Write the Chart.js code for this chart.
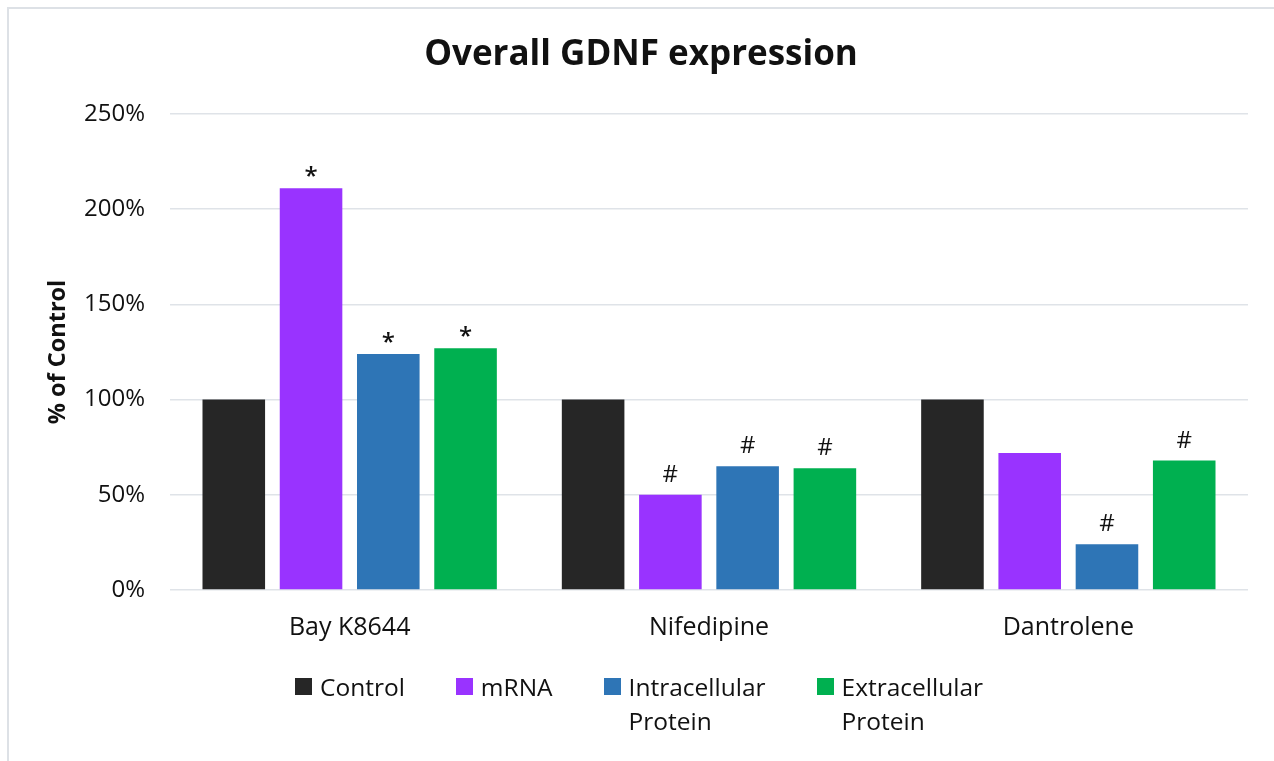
<!DOCTYPE html>
<html>
<head>
<meta charset="utf-8">
<script src="https://cdn.jsdelivr.net/npm/chart.js@4"></script>
<style>
    html, body { margin: 0; padding: 0; background: #fff; overflow: hidden; }
    #wrap { position: relative; width: 1274px; height: 761px; }
    #frame { position: absolute; left: 7px; top: 7px; width: 1300px; height: 800px; border: 2px solid #dde1e6; box-sizing: border-box; }
    #myChart { position: absolute; left: 0; top: 0; }
    #legend { position: absolute; left: 2px; top: 670px; width: 1274px; display: flex; justify-content: center; gap: 51px;
              font-family: "Open Sans", sans-serif; font-size: 24.5px; line-height: 34px; color: #111; }
    #legend .item { display: flex; align-items: flex-start; }
    #legend .box { width: 17px; height: 17px; margin-top: 8px; margin-right: 8px; flex: none; }
</style>
</head>
<body>
<div id="wrap">
    <div id="frame"></div>
    <canvas id="myChart" width="1274" height="761"></canvas>
    <div id="legend"></div>
</div>
<script>
const categories = ['Bay K8644', 'Nifedipine', 'Dantrolene'];
const seriesNames = ['Control', 'mRNA', ['Intracellular', 'Protein'], ['Extracellular', 'Protein']];
const seriesColors = ['#262626', '#9933ff', '#2e75b6', '#00b050'];
const controlValues = [100, 100, 100];
const mrnaValues = [211, 50, 72];
const intraValues = [124, 65, 24];
const extraValues = [127, 64, 68];
const controlMarks = ['', '', ''];
const mrnaMarks = ['*', '#', ''];
const intraMarks = ['*', '#', '#'];
const extraMarks = ['*', '#', '#'];
const yTicks = [0, 50, 100, 150, 200, 250];

const fontFamily = '"Open Sans", sans-serif';
const textColor = '#111111';

document.addEventListener('DOMContentLoaded', function() {
    const ctx = document.getElementById('myChart');

    // draws the * and # above the bars
    const marksPlugin = {
        id: 'marks',
        afterDatasetsDraw(chart) {
            const c = chart.ctx;
            c.save();
            c.fillStyle = textColor;
            c.textAlign = 'center';
            c.textBaseline = 'alphabetic';
            chart.data.datasets.forEach((ds, i) => {
                const meta = chart.getDatasetMeta(i);
                meta.data.forEach((bar, j) => {
                    const m = ds.marks[j];
                    if (!m) return;
                    c.font = (m === '*' ? '600 ' : '') + '24px ' + fontFamily;
                    c.fillText(m, bar.x, bar.y - (m === '*' ? 4 : 13));
                });
            });
            c.restore();
        }
    };

    // html legend built from the datasets
    const legendPlugin = {
        id: 'htmlLegend',
        afterUpdate(chart) {
            const box = document.getElementById('legend');
            box.innerHTML = '';
            chart.data.datasets.forEach(ds => {
                const item = document.createElement('div');
                item.className = 'item';
                const sw = document.createElement('span');
                sw.className = 'box';
                sw.style.background = ds.backgroundColor;
                const txt = document.createElement('span');
                txt.innerHTML = [].concat(ds.label).join('<br>');
                item.appendChild(sw);
                item.appendChild(txt);
                box.appendChild(item);
            });
        }
    };

    new Chart(ctx, {
        type: 'bar',
        data: {
            labels: categories,
            datasets: [
                { label: seriesNames[0], data: controlValues, marks: controlMarks, backgroundColor: seriesColors[0] },
                { label: seriesNames[1], data: mrnaValues, marks: mrnaMarks, backgroundColor: seriesColors[1] },
                { label: seriesNames[2], data: intraValues, marks: intraMarks, backgroundColor: seriesColors[2] },
                { label: seriesNames[3], data: extraValues, marks: extraMarks, backgroundColor: seriesColors[3] }
            ]
        },
        options: {
            responsive: false,
            maintainAspectRatio: false,
            animation: false,
            datasets: {
                bar: {
                    barPercentage: 0.81,
                    categoryPercentage: 0.86
                }
            },
            layout: {
                padding: { left: 34, right: 26, top: 0, bottom: 108 }
            },
            scales: {
                x: {
                    grid: { display: false, drawTicks: false },
                    border: { display: false },
                    ticks: {
                        color: textColor,
                        font: { family: fontFamily, size: 25 },
                        padding: 23,
                        maxRotation: 0
                    },
                    afterFit(scale) { scale.height = 63; }
                },
                y: {
                    min: 0,
                    max: 250,
                    afterBuildTicks(scale) { scale.ticks = yTicks.map(v => ({ value: v })); },
                    grid: { color: '#dfe3e8', lineWidth: 1.5, drawTicks: false },
                    border: { display: false },
                    ticks: {
                        color: textColor,
                        font: { family: fontFamily, size: 24 },
                        padding: 25,
                        callback: v => v + '%'
                    },
                    title: {
                        display: true,
                        text: '% of Control',
                        color: textColor,
                        font: { family: fontFamily, size: 23.5, weight: 'bold' },
                        padding: { top: 10, bottom: 0 }
                    },
                    afterFit(scale) { scale.width = 136; }
                }
            },
            plugins: {
                title: {
                    display: true,
                    text: 'Overall GDNF expression',
                    color: textColor,
                    font: { family: fontFamily, size: 35, weight: 'bold', lineHeight: 1.2 },
                    padding: { top: 34, bottom: 38 }
                },
                legend: { display: false },
                tooltip: { enabled: false }
            }
        },
        plugins: [marksPlugin, legendPlugin]
    });
});
</script>
</body>
</html>
